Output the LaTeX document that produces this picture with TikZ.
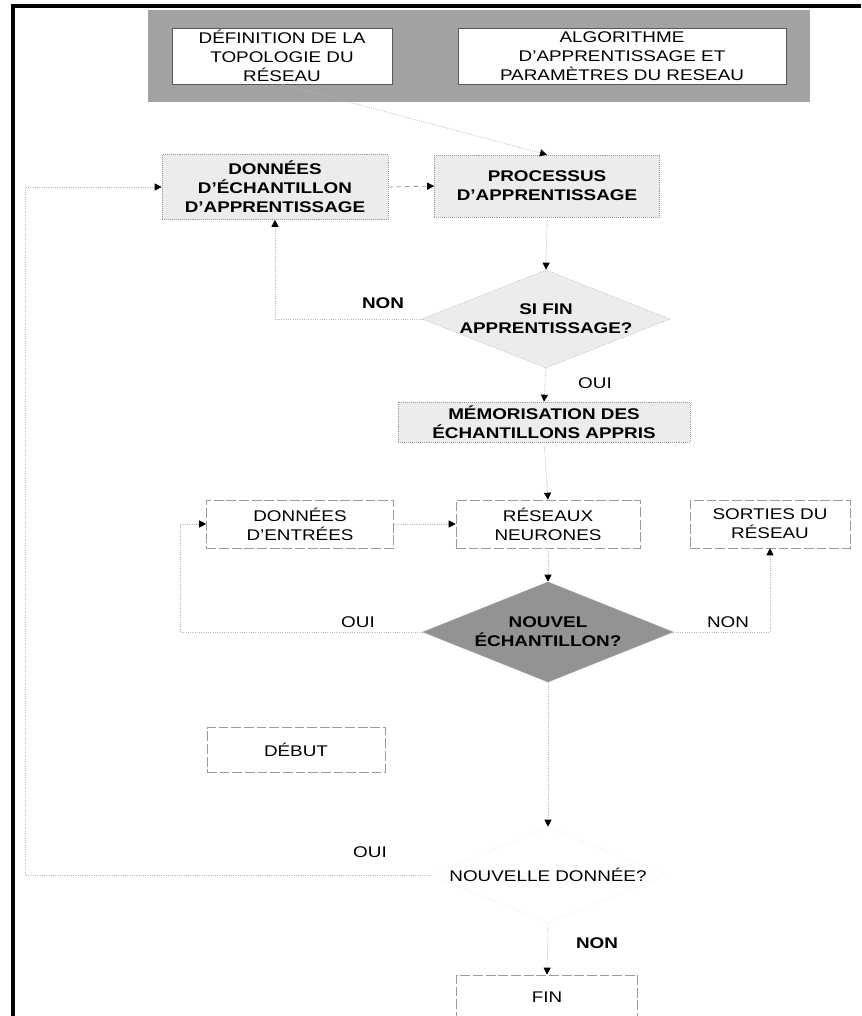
\documentclass[tikz,border=0pt]{standalone}
\usepackage{fontspec}
\setmainfont[FakeStretch=1.22]{Liberation Sans}
\usepackage{xcolor}
\usepackage{tikz}
\usetikzlibrary{positioning,arrows.meta,shapes.geometric,calc}
\definecolor{BannerGray}{HTML}{A2A2A2}
\definecolor{ShadeLight}{HTML}{ECECEC}
\definecolor{ShadeDark}{HTML}{939393}
\definecolor{EdgeGray}{HTML}{9A9A9A}
\definecolor{LinkGray}{HTML}{B8B8B8}
\newcommand{\diagfont}{\fontsize{11pt}{13.4pt}\selectfont}
\tikzset{
  lightbox/.style={draw=EdgeGray, densely dotted, fill=ShadeLight, align=center,
                   font=\diagfont\bfseries, inner sep=1pt},
  plainbox/.style={draw=EdgeGray, dash pattern=on 7pt off 2pt, fill=white,
                   align=center, font=\diagfont, inner sep=1pt},
  whitebox/.style={draw=black!65, fill=white, align=center, font=\diagfont, inner sep=1pt},
  testnode/.style={diamond, aspect=2.5, align=center, inner sep=-3pt,
                   font=\diagfont\bfseries},
  link/.style={draw=LinkGray, densely dotted, line width=0.6pt,
               -{Triangle[length=5pt,width=5pt,color=black]}},
  answer/.style={font=\diagfont},
}

\begin{document}
\begin{tikzpicture}[x=0.025cm,y=-0.025cm]
  \useasboundingbox (0,0) rectangle (861,1016);
  \draw[line width=2.2pt] (13,1016) -- (13,6) -- (861,6);

  \node[fill=BannerGray, minimum width=16.55cm, minimum height=2.3cm, inner sep=0pt]
    (banner) at (479,56) {};
  \node[whitebox, minimum width=5.5cm, minimum height=1.4cm] (topologie) at (282,56)
    {DÉFINITION DE LA\\TOPOLOGIE DU\\RÉSEAU};
  \node[whitebox, minimum width=8.2cm, minimum height=1.4cm] (algorithme) at (622,56)
    {ALGORITHME\\D'APPRENTISSAGE ET\\PARAMÈTRES DU RESEAU};

  \node[lightbox, minimum width=5.65cm, minimum height=1.625cm] (echantillon) at (275,187)
    {DONNÉES\\D'ÉCHANTILLON\\D'APPRENTISSAGE};
  \node[lightbox, minimum width=5.625cm, minimum height=1.55cm] (processus) at (547,186)
    {PROCESSUS\\D'APPRENTISSAGE};
  \node[testnode, draw=EdgeGray, densely dotted, fill=ShadeLight,
        minimum width=6.2cm, minimum height=2.45cm] (finapp) at (546,319)
    {SI FIN\\APPRENTISSAGE?};
  \node[lightbox, minimum width=7.3cm, minimum height=1cm] (memoire) at (544,422)
    {MÉMORISATION DES\\ÉCHANTILLONS APPRIS};

  \node[plainbox, minimum width=4.675cm, minimum height=1.2cm] (entrees) at (300,524)
    {DONNÉES\\D'ENTRÉES};
  \node[plainbox, minimum width=4.6cm, minimum height=1.2cm] (reseaux) at (548,524)
    {RÉSEAUX\\NEURONES};
  \node[plainbox, minimum width=4cm, minimum height=1.2cm] (sorties) at (770,524)
    {SORTIES DU\\RÉSEAU};
  \node[testnode, draw=EdgeGray, fill=ShadeDark,
        minimum width=6.25cm, minimum height=2.5cm] (nouvech) at (548,632)
    {NOUVEL\\ÉCHANTILLON?};

  \node[plainbox, minimum width=4.45cm, minimum height=1.125cm] (debut) at (296,750)
    {DÉBUT};
  \node[testnode, draw=LinkGray!45, densely dotted, font=\diagfont,
        minimum width=5.9cm, minimum height=2.4cm] (nouvdon) at (548,875)
    {NOUVELLE DONNÉE?};
  \node[plainbox, minimum width=4.525cm, minimum height=1.1cm] (fin) at (547,997)
    {FIN};

  \node[answer, font=\diagfont\bfseries] (non1) at (383,303) {NON};
  \node[answer] (oui1) at (595,383) {OUI};
  \node[answer] (oui2) at (358,622) {OUI};
  \node[answer] (non2) at (728,622) {NON};
  \node[answer] (oui3) at (370,852) {OUI};
  \node[answer, font=\diagfont\bfseries] (non3) at (597,943) {NON};

  \coordinate (bordA) at (25,875);
  \coordinate (bordB) at (180,632);

  \draw[link] (topologie.south) -- (processus.north);
  \draw[link, draw=EdgeGray, dashed] (echantillon.east) -- (processus.west);
  \draw[link] (processus.south) -- (finapp.north);
  \draw[link] (finapp.west) -| (echantillon.south);
  \draw[link] (finapp.south) -- (memoire.north);
  \draw[link] (memoire.south) -- (reseaux.north);
  \draw[link] (entrees.east) -- (reseaux.west);
  \draw[link] (reseaux.south) -- (nouvech.north);
  \draw[link] (nouvech.west) -- (bordB) |- (entrees.west);
  \draw[link] (nouvech.east) -| (sorties.south);
  \draw[link] (nouvech.south) -- (nouvdon.north);
  \draw[link] (nouvdon.west) -- (bordA) |- (echantillon.west);
  \draw[link] (nouvdon.south) -- (fin.north);
\end{tikzpicture}
\end{document}
